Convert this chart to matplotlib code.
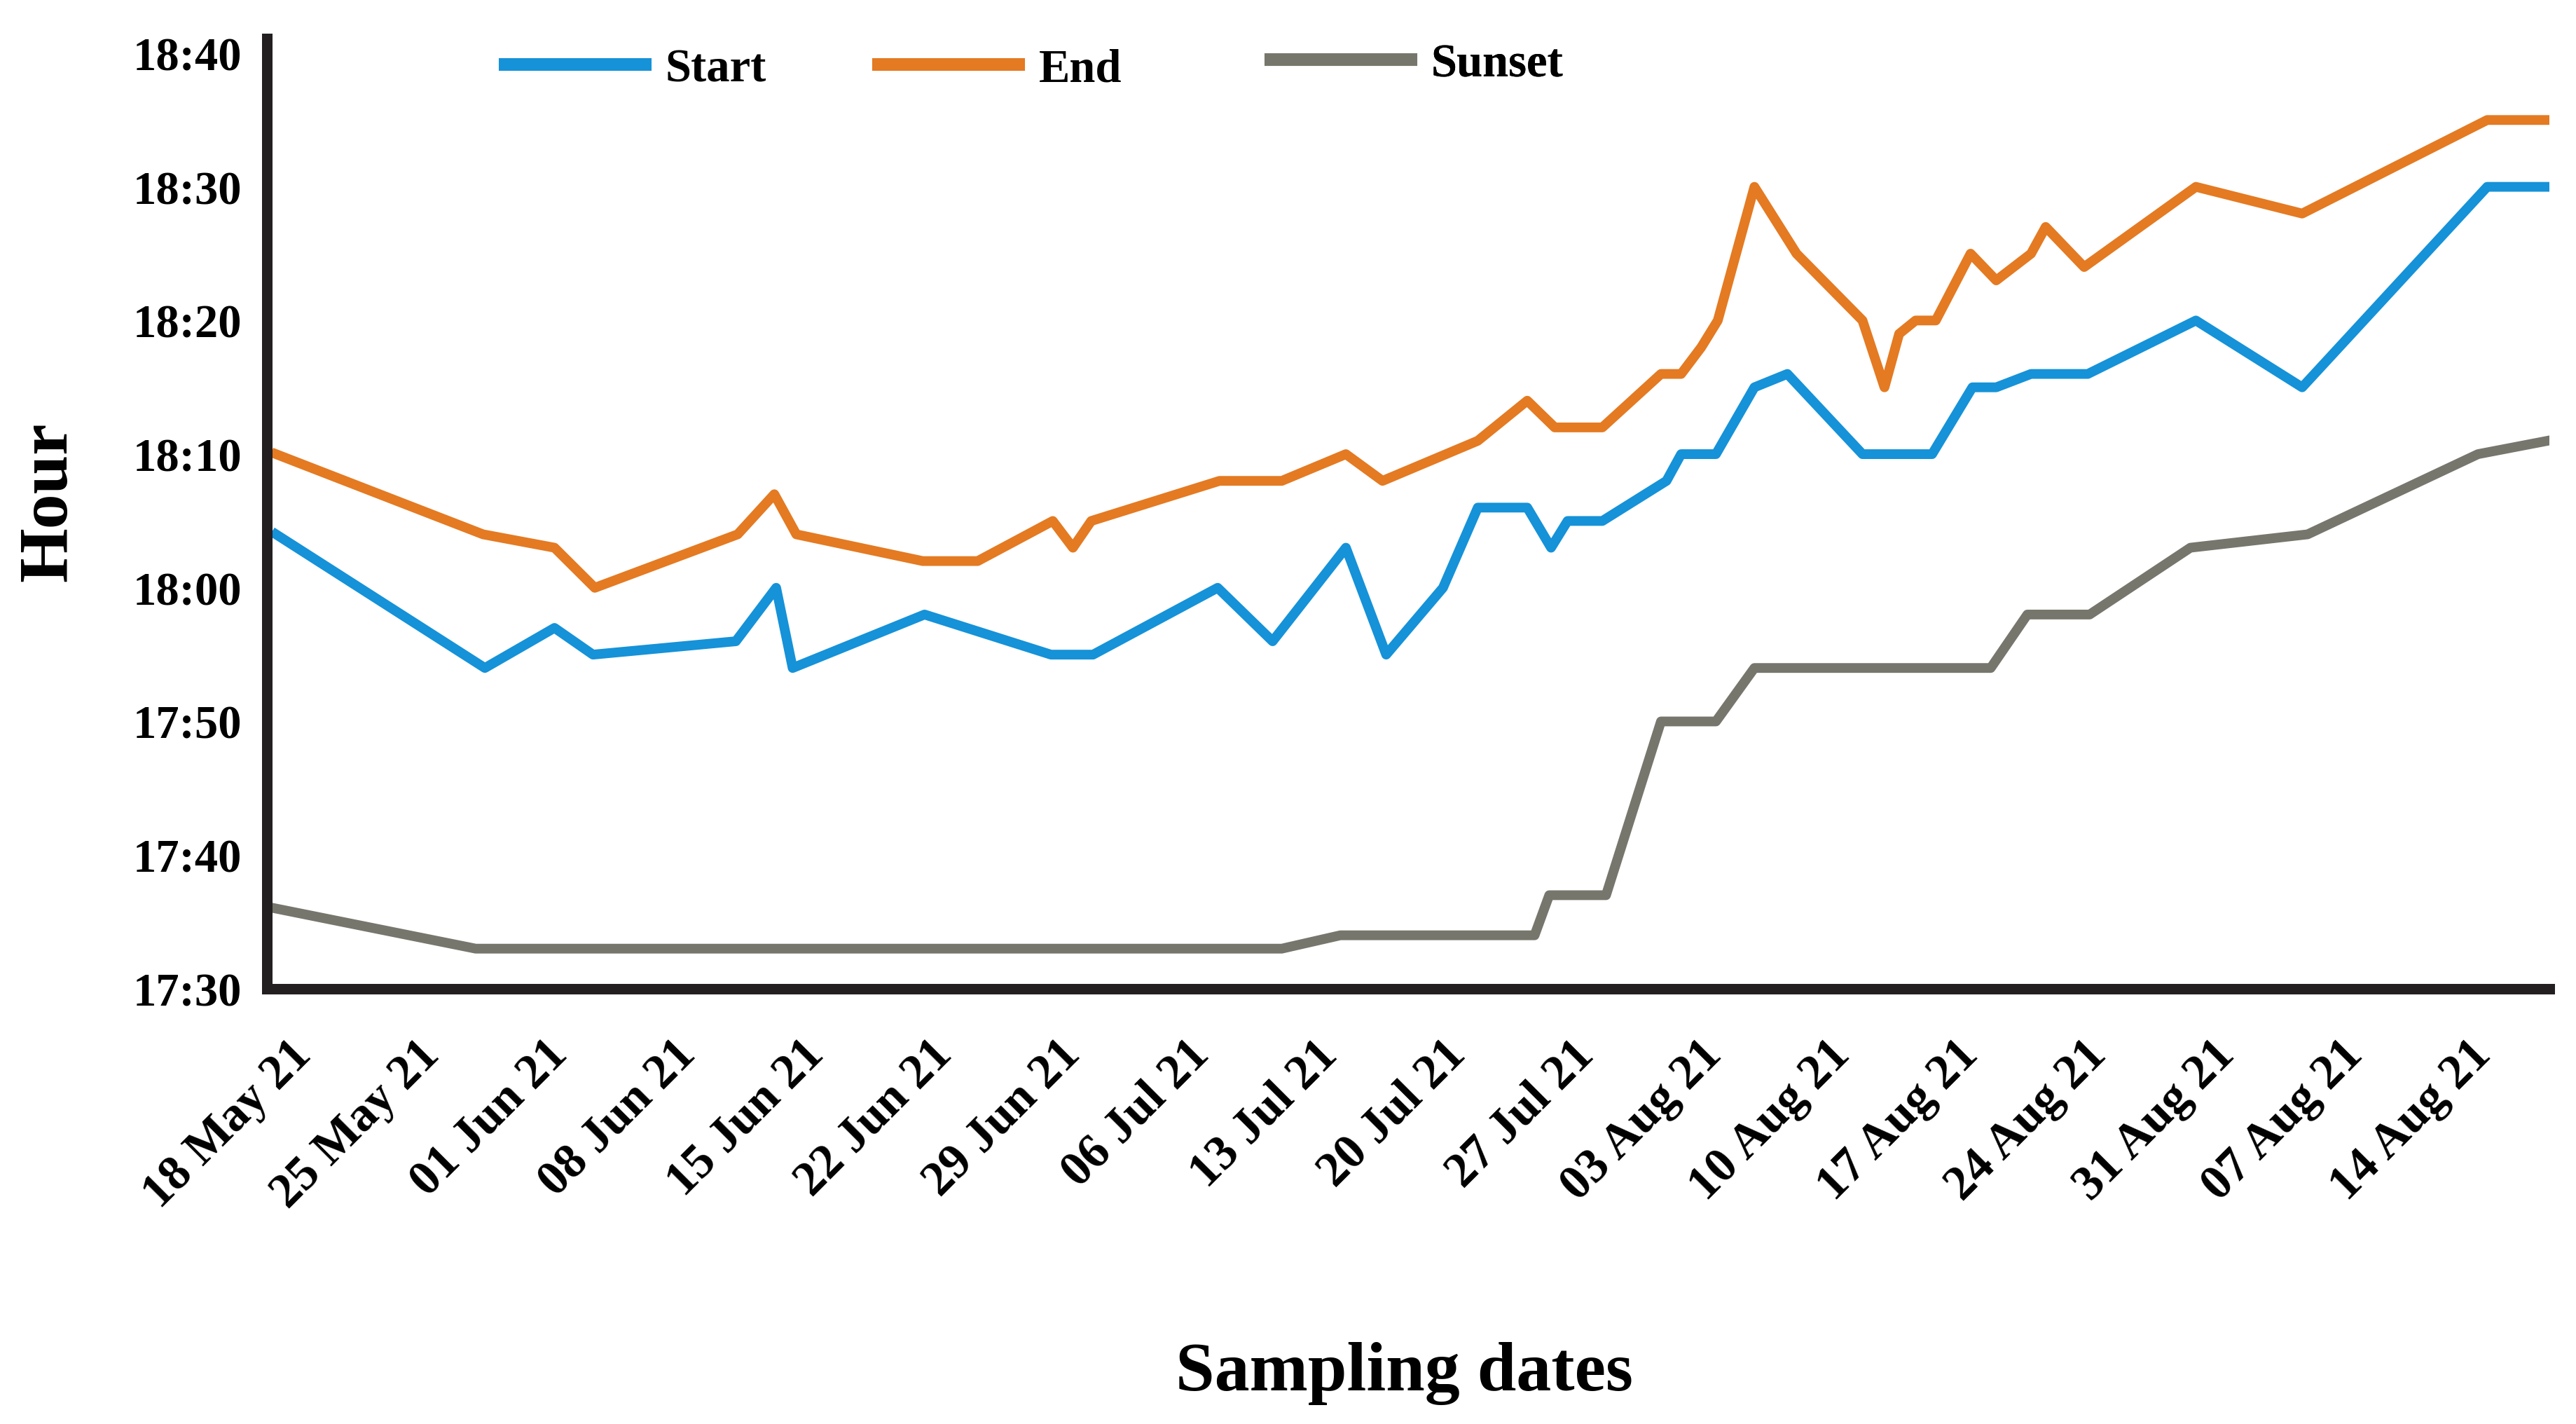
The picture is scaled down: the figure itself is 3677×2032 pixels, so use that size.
import matplotlib
matplotlib.use('Agg')
import matplotlib.pyplot as plt
import matplotlib.transforms as mtransforms
from matplotlib.lines import Line2D
from matplotlib.ticker import FuncFormatter

plt.rcParams['font.family'] = ['Liberation Serif', 'DejaVu Serif']
plt.rcParams['font.weight'] = 'bold'

# sampling day (days after 18 May 21) and hour
start_days = [0, 11.4, 15.2, 17.3, 25.1, 27.3, 28.2, 35.4, 42.3, 44.6, 51.4, 54.4, 58.4, 60.6,
              63.7, 65.6, 68.3, 69.6, 70.5, 72.4, 75.9, 76.7, 78.6, 80.7, 82.5, 86.6, 90.4,
              92.6, 93.9, 95.8, 98.9, 104.8, 110.6, 120.7, 124]
start_hours = ['18:04', '17:54', '17:57', '17:55', '17:56', '18:00', '17:54', '17:58', '17:55',
               '17:55', '18:00', '17:56', '18:03', '17:55', '18:00', '18:06', '18:06', '18:03',
               '18:05', '18:05', '18:08', '18:10', '18:10', '18:15', '18:16', '18:10', '18:10',
               '18:15', '18:15', '18:16', '18:16', '18:20', '18:15', '18:30', '18:30']

end_days = [0, 11.3, 15.2, 17.4, 25.2, 27.2, 28.4, 35.3, 38.3, 42.4, 43.5, 44.5, 51.5, 54.9,
            58.4, 60.4, 65.6, 68.3, 69.8, 72.4, 75.6, 76.7, 77.8, 78.7, 80.7, 83.0, 86.6,
            87.8, 88.6, 89.5, 90.6, 92.5, 93.9, 95.8, 96.6, 98.7, 104.8, 110.6, 120.7, 124]
end_hours = ['18:10', '18:04', '18:03', '18:00', '18:04', '18:07', '18:04', '18:02', '18:02',
             '18:05', '18:03', '18:05', '18:08', '18:08', '18:10', '18:08', '18:11', '18:14',
             '18:12', '18:12', '18:16', '18:16', '18:18', '18:20', '18:30', '18:25', '18:20',
             '18:15', '18:19', '18:20', '18:20', '18:25', '18:23', '18:25', '18:27', '18:24',
             '18:30', '18:28', '18:35', '18:35']

sunset_days = [0, 10.9, 54.9, 58.1, 68.7, 69.5, 72.6, 75.6, 78.6, 80.7, 93.6, 95.6, 99.0,
               104.5, 110.9, 120.2, 124]
sunset_hours = ['17:36', '17:33', '17:33', '17:34', '17:34', '17:37', '17:37', '17:50', '17:50',
                '17:54', '17:54', '17:58', '17:58', '18:03', '18:04', '18:10', '18:11']

tick_days = [0, 7, 14, 21, 28, 35, 42, 49, 56, 63, 70, 77, 84, 91, 98, 105, 112, 119]
tick_labels = ['18 May 21', '25 May 21', '01 Jun 21', '08 Jun 21', '15 Jun 21', '22 Jun 21',
               '29 Jun 21', '06 Jul 21', '13 Jul 21', '20 Jul 21', '27 Jul 21', '03 Aug 21',
               '10 Aug 21', '17 Aug 21', '24 Aug 21', '31 Aug 21', '07 Aug 21', '14 Aug 21']
hour_ticks = ['17:30', '17:40', '17:50', '18:00', '18:10', '18:20', '18:30', '18:40']

blue = '#1592d8'
orange = '#e47a22'
grey = '#77766c'
axis_col = '#231f20'


def to_min(s):
    h, m = s.split(':')
    return int(h) * 60 + int(m)


fig = plt.figure(figsize=(18.385, 10.165), dpi=200)
ax = fig.add_axes([0.1036, 0.3055, 0.8861, 0.6670])

ax.plot(start_days, [to_min(h) for h in start_hours], color=blue, lw=5)
ax.plot(end_days, [to_min(h) for h in end_hours], color=orange, lw=5)
ax.plot(sunset_days, [to_min(h) for h in sunset_hours], color=grey, lw=5)

ax.set_xlim(-0.5, 124.1)
ax.set_ylim(to_min('17:30'), to_min('18:41') + 0.1)

ax.set_yticks([to_min(h) for h in hour_ticks])
ax.yaxis.set_major_formatter(FuncFormatter(lambda v, p: '%d:%02d' % (v // 60, v % 60)))
ax.set_xticks(tick_days)
ax.set_xticklabels(tick_labels, rotation=45, ha='right', va='top', rotation_mode='anchor')
ax.tick_params(axis='y', length=0, pad=13, labelsize=24)
ax.tick_params(axis='x', length=0, pad=22, labelsize=25)

# nudge the date labels to the right like the original
shift = mtransforms.ScaledTranslation(18 / 200, 0, fig.dpi_scale_trans)
for lab in ax.get_xticklabels():
    lab.set_transform(lab.get_transform() + shift)

for side in ['top', 'right']:
    ax.spines[side].set_visible(False)
for side in ['left', 'bottom']:
    ax.spines[side].set_linewidth(5.4)
    ax.spines[side].set_color(axis_col)

# one legend per entry, placed like the original
entries = [('Start', blue, 721, 100), ('End', orange, 1254, 100), ('Sunset', grey, 1814, 93)]
for name, col, px, py in entries:
    leg = ax.legend([Line2D([], [], color=col, lw=6.5)], [name], loc='center left',
                    bbox_to_anchor=(px / 3677, 1 - py / 2033), bbox_transform=fig.transFigure,
                    frameon=False, fontsize=24, handlelength=3.0, handletextpad=0.43,
                    borderpad=0, borderaxespad=0)
    ax.add_artist(leg)

fig.text(70 / 3677, 1 - 716 / 2033, 'Hour', rotation=90, fontsize=36, ha='center', va='center')
fig.text(2005 / 3677, 1 - 1960 / 2033, 'Sampling dates', fontsize=36, ha='center', va='center')

fig.savefig('out.png', dpi=200, facecolor='white')
